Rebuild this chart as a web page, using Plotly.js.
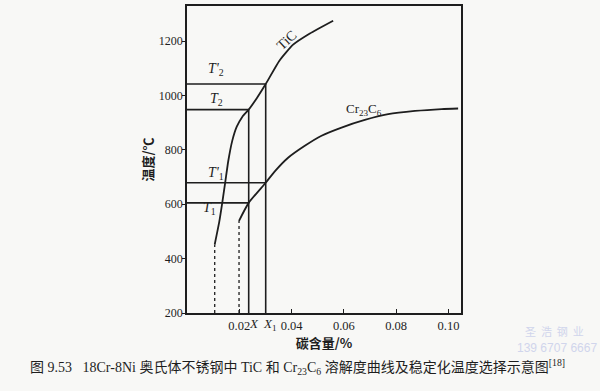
<!DOCTYPE html>
<html>
<head>
<meta charset="utf-8">
<script src="https://cdn.plot.ly/plotly-3.0.1.min.js"></script>
<style>html,body{margin:0;padding:0;background:#f8f8f6;}#chart{width:600px;height:391px;}</style>
</head>
<body>
<div id="chart"></div>
<script>
// TiC solubility curve (carbon %, temperature °C)
const ticX = [0.0106, 0.01233, 0.01351, 0.01466, 0.01577, 0.0173, 0.01903, 0.02113, 0.0236, 0.02669, 0.0301, 0.03534, 0.04058, 0.04698, 0.0559];
const ticY = [452, 535, 607, 683, 758, 833, 885, 921, 948, 990, 1042, 1128, 1187, 1228, 1275];
// Cr23C6 solubility curve
const crX = [0.0199, 0.0236, 0.0301, 0.03358, 0.03867, 0.04506, 0.05146, 0.05911, 0.0680, 0.07695, 0.0872, 0.0974, 0.1037];
const crY = [539, 605, 679, 721, 771, 815, 852, 882, 910, 931, 943, 950, 952];
// carbon contents and temperatures
const X = 0.0236, X1 = 0.0301;
const T1 = 605, T1p = 679, T2 = 948, T2p = 1042;
const xMin = 0, xMax = 0.1048, yMin = 200, yMax = 1329;
const xTicks = [0.02, 0.04, 0.06, 0.08, 0.10];
const xTickText = ['0.02', '0.04', '0.06', '0.08', '0.10'];
const yTicks = [200, 400, 600, 800, 1000, 1200];

const ink = '#1e1e1e';
const serif = 'Liberation Serif, Times New Roman, serif';
const cjk = 'Liberation Serif, Noto Sans CJK SC, serif';
const solid = {color: ink, width: 1.8};
const thin = {color: ink, width: 1.6};
const dotted = {color: ink, width: 1.3, dash: 'dot'};

const traces = [
  {x: ticX, y: ticY, mode: 'lines', line: Object.assign({shape: 'spline', smoothing: 0.5}, solid)},
  {x: crX, y: crY, mode: 'lines', line: Object.assign({shape: 'spline', smoothing: 0.6}, solid)},
  {x: [ticX[0], ticX[0]], y: [yMin, ticY[0]], mode: 'lines', line: dotted},
  {x: [crX[0], crX[0]], y: [yMin, crY[0]], mode: 'lines', line: dotted},
  {x: [X, X], y: [yMin, T2], mode: 'lines', line: thin},
  {x: [X1, X1], y: [yMin, T2p], mode: 'lines', line: thin},
  {x: [xMin, X1], y: [T2p, T2p], mode: 'lines', line: thin},
  {x: [xMin, X], y: [T2, T2], mode: 'lines', line: thin},
  {x: [xMin, X1], y: [T1p, T1p], mode: 'lines', line: thin},
  {x: [xMin, X], y: [T1, T1], mode: 'lines', line: thin}
];

const tfont = {family: serif, size: 14, color: ink};
const annotations = [
  {x: 0.01126, y: 1096, text: "<i>T'</i><sub>2</sub>", showarrow: false, font: tfont},
  {x: 0.01126, y: 987, text: '<i>T</i><sub>2</sub>', showarrow: false, font: tfont},
  {x: 0.01126, y: 714, text: "<i>T'</i><sub>1</sub>", showarrow: false, font: tfont},
  {x: 0.0087, y: 583, text: '<i>T</i><sub>1</sub>', showarrow: false, font: tfont},
  {x: 0.0380, y: 1203, text: 'TiC', textangle: -43, showarrow: false, font: {family: serif, size: 14, color: ink}},
  {x: 0.0678, y: 947, text: 'Cr<sub>23</sub>C<sub>6</sub>', showarrow: false, font: {family: serif, size: 13, color: ink}},
  {x: X, y: 0, yref: 'paper', yanchor: 'top', yshift: -1, xanchor: 'left', xshift: -2, text: '<i>X</i>', showarrow: false, font: {family: serif, size: 13, color: ink}},
  {x: X1, y: 0, yref: 'paper', yanchor: 'top', yshift: -1, xanchor: 'left', xshift: -5, text: '<i>X</i><sub>1</sub>', showarrow: false, font: {family: serif, size: 13, color: ink}},
  {x: -0.58, y: -0.176, xref: 'paper', yref: 'paper', xanchor: 'left', yanchor: 'middle', showarrow: false,
   text: '图 9.53   18Cr-8Ni 奥氏体不锈钢中 TiC 和 Cr<sub>23</sub>C<sub>6</sub> 溶解度曲线及稳定化温度选择示意图<sup>[18]</sup>',
   font: {family: cjk, size: 14, color: ink}},
  {x: 1.34, y: -0.058, xref: 'paper', yref: 'paper', xanchor: 'center', yanchor: 'middle', showarrow: false,
   text: '圣  浩  钢  业', font: {family: 'Noto Sans CJK SC', size: 11, color: '#d0d5ec'}},
  {x: 1.35, y: -0.113, xref: 'paper', yref: 'paper', xanchor: 'center', yanchor: 'middle', showarrow: false,
   text: '139 6707 6667', font: {family: 'Liberation Sans', size: 12, color: '#d0d5ec'}}
];

const layout = {
  width: 600, height: 391,
  margin: {l: 187, r: 139, t: 6, b: 78},
  paper_bgcolor: '#f8f8f6', plot_bgcolor: '#f8f8f6',
  showlegend: false,
  xaxis: {
    range: [xMin, xMax], tickvals: xTicks, ticktext: xTickText,
    ticks: 'inside', ticklen: 4, tickwidth: 1.2, tickcolor: ink,
    showline: true, mirror: true, linecolor: ink, linewidth: 1.6,
    showgrid: false, zeroline: false,
    tickfont: {family: serif, size: 12.5, color: ink},
    title: {text: '碳含量/%', standoff: 1, font: {family: 'Noto Sans CJK SC', size: 13, color: ink, weight: 'bold'}}
  },
  yaxis: {
    range: [yMin, yMax], tickvals: yTicks,
    ticks: 'outside', ticklen: 3, tickwidth: 1.2, tickcolor: ink,
    ticklabelstandoff: -3,
    showline: true, mirror: true, linecolor: ink, linewidth: 1.6,
    showgrid: false, zeroline: false,
    tickfont: {family: serif, size: 12, color: ink},
    title: {text: '温度/℃', standoff: 2, font: {family: 'Noto Sans CJK SC', size: 13, color: ink, weight: 'bold'}}
  },
  annotations: annotations
};

Plotly.newPlot('chart', traces, layout, {displayModeBar: false});
</script>
</body>
</html>
